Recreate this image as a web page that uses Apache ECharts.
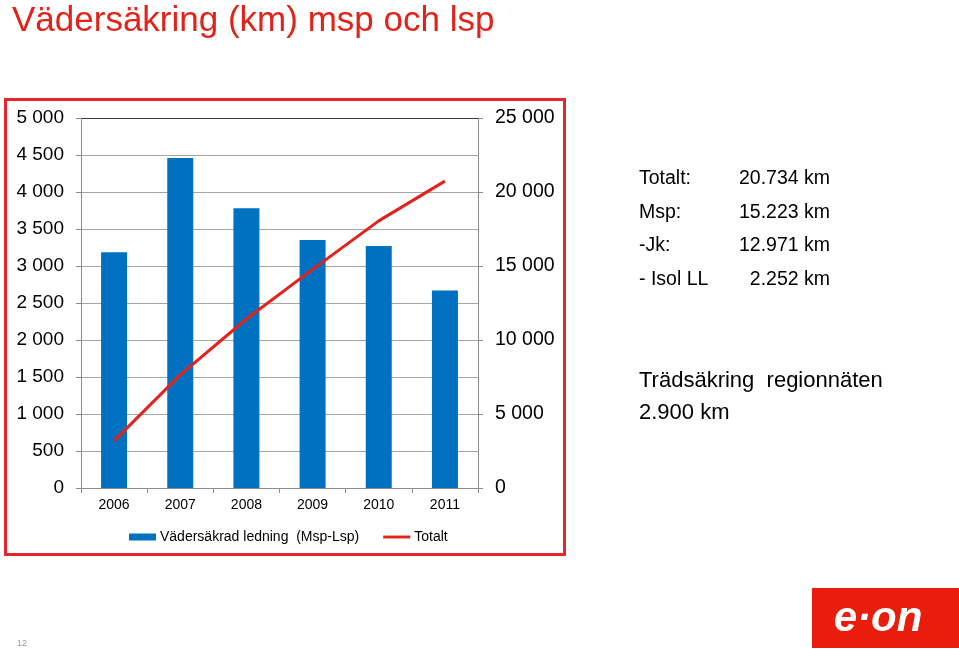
<!DOCTYPE html>
<html>
<head>
<meta charset="utf-8">
<script src="https://cdn.jsdelivr.net/npm/echarts@6/dist/echarts.min.js"></script>
<style>
html,body{margin:0;padding:0;background:#fff;}
#chart{width:959px;height:649px;}
</style>
</head>
<body>
<div id="chart"></div>
<script>
const categories = ['2006', '2007', '2008', '2009', '2010', '2011'];
const barValues = [3185, 4460, 3780, 3350, 3270, 2670];
const totalValues = [3185, 7640, 11420, 14770, 18050, 20734];
const leftTicks = [0, 500, 1000, 1500, 2000, 2500, 3000, 3500, 4000, 4500, 5000];
const rightTicks = [0, 5000, 10000, 15000, 20000, 25000];
const barName = 'Vädersäkrad ledning  (Msp-Lsp)';
const lineName = 'Totalt';
const infoLabels = ['Totalt:', 'Msp:', '-Jk:', '- Isol LL'];
const infoValues = ['20.734 km', '15.223 km', '12.971 km', '2.252 km'];

const FONT = '"Liberation Sans", Arial, sans-serif';
const fmt = v => String(v).replace(/\B(?=(\d{3})+(?!\d))/g, ' ');
const splitColors = leftTicks.map((t, i) => i === leftTicks.length - 1 ? '#3a3a3a' : '#a6a6a6');

const chart = echarts.init(document.getElementById('chart'), null, {renderer: 'canvas'});

const infoY = [179, 213, 246, 280];
const graphics = [
  {type: 'rect', shape: {x: 5.5, y: 99.5, width: 559, height: 455}, style: {fill: 'none', stroke: '#e3262b', lineWidth: 3}, z: 0},
  {type: 'text', x: 12, y: 21, style: {text: 'Vädersäkring (km) msp och lsp', font: '35px ' + FONT, fill: '#e2231a', verticalAlign: 'middle'}},
  {type: 'text', x: 639, y: 381, style: {text: 'Trädsäkring  regionnäten', font: '22px ' + FONT, fill: '#000', verticalAlign: 'middle'}},
  {type: 'text', x: 639, y: 413, style: {text: '2.900 km', font: '22px ' + FONT, fill: '#000', verticalAlign: 'middle'}},
  {type: 'rect', shape: {x: 812, y: 588, width: 147, height: 60}, style: {fill: '#ea1d0c'}},
  {type: 'text', x: 878, y: 619, style: {text: 'e·on', font: 'italic bold 42px ' + FONT, fill: '#fff', align: 'center', verticalAlign: 'middle'}},
  {type: 'text', x: 17, y: 644, style: {text: '12', font: '9px ' + FONT, fill: '#999', verticalAlign: 'middle'}}
];
infoLabels.forEach((t, i) => {
  graphics.push({type: 'text', x: 639, y: infoY[i], style: {text: t, font: '19.5px ' + FONT, fill: '#000', verticalAlign: 'middle'}});
  graphics.push({type: 'text', x: 830, y: infoY[i], style: {text: infoValues[i], font: '19.5px ' + FONT, fill: '#000', align: 'right', verticalAlign: 'middle'}});
});

chart.setOption({
  animation: false,
  backgroundColor: '#fff',
  textStyle: {fontFamily: FONT},
  grid: {left: 81, right: 481, top: 118, bottom: 161, containLabel: false},
  legend: {
    left: 124, top: 525, itemWidth: 27, itemHeight: 7, itemGap: 24,
    textStyle: {fontSize: 14, color: '#000', fontFamily: FONT, padding: [0, 0, 0, -1]},
    data: [
      {name: barName, icon: 'rect'},
      {name: lineName, icon: 'path://M0,0 L30,0 L30,3.2 L0,3.2 Z'}
    ]
  },
  xAxis: {
    type: 'category', data: categories,
    axisLine: {lineStyle: {color: '#8c8c8c', width: 1}},
    axisTick: {show: true, length: 5, lineStyle: {color: '#8c8c8c'}},
    axisLabel: {fontSize: 14, color: '#000', margin: 10, fontFamily: FONT}
  },
  yAxis: [
    {
      type: 'value', min: 0, max: 5000, interval: 500,
      axisLine: {show: true, lineStyle: {color: '#8c8c8c'}},
      axisTick: {show: true, length: 5, lineStyle: {color: '#8c8c8c'}},
      axisLabel: {fontSize: 19, color: '#000', margin: 17, formatter: fmt, fontFamily: FONT},
      splitLine: {show: true, lineStyle: {color: splitColors, width: 1}}
    },
    {
      type: 'value', min: 0, max: 25000, interval: 5000, position: 'right',
      axisLine: {show: true, lineStyle: {color: '#8c8c8c'}},
      axisTick: {show: true, length: 5, lineStyle: {color: '#8c8c8c'}},
      axisLabel: {fontSize: 19.5, color: '#000', margin: 17, formatter: fmt, fontFamily: FONT},
      splitLine: {show: false}
    }
  ],
  series: [
    {
      name: barName, type: 'bar', data: barValues, barWidth: 26,
      itemStyle: {color: '#0070c0'}, yAxisIndex: 0
    },
    {
      name: lineName, type: 'line', data: totalValues, yAxisIndex: 1,
      symbol: 'none', lineStyle: {color: '#e3221b', width: 3}, itemStyle: {color: '#e3221b'}
    }
  ],
  graphic: graphics
});
</script>
</body>
</html>
